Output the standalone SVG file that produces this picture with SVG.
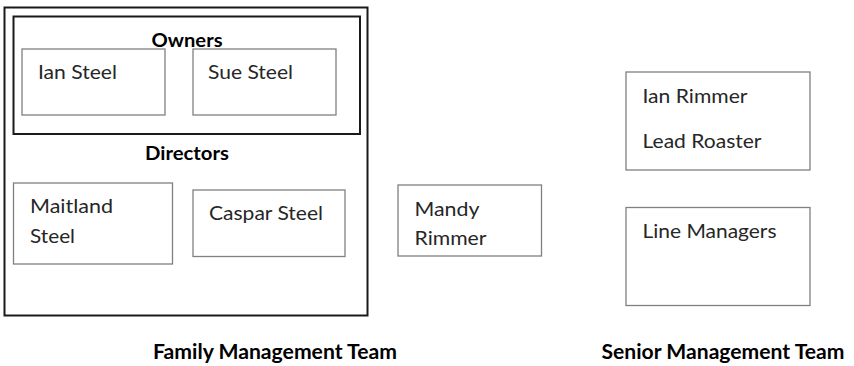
<svg xmlns="http://www.w3.org/2000/svg" width="854" height="366" viewBox="0 0 854 366">
<style>
.frame{fill:none;stroke:#1a1a1a;stroke-width:2}
.box{fill:#fff;stroke:#808080;stroke-width:1.3}
.t{font-family:Lato,"Open Sans","Liberation Sans",sans-serif;font-size:20px;fill:#262626}
.h{font-family:Lato,"Open Sans","Liberation Sans",sans-serif;font-weight:bold;fill:#000}
</style>
<rect width="854" height="366" fill="#fff"/>
<g id="family-frame">
<rect class="frame" x="4.5" y="7.5" width="363" height="308"/>
</g>
<g id="owners">
<rect class="frame" x="13.5" y="16.5" width="346.5" height="117.5"/>
<text class="h" x="187" y="47" font-size="18" text-anchor="middle" textLength="71" lengthAdjust="spacingAndGlyphs">Owners</text>
</g>
<g id="ian-steel">
<rect class="box" x="22" y="49" width="143" height="66"/>
<text class="t" x="38" y="79" textLength="79" lengthAdjust="spacingAndGlyphs">Ian Steel</text>
</g>
<g id="sue-steel">
<rect class="box" x="193" y="49" width="143" height="66"/>
<text class="t" x="208" y="79" textLength="85" lengthAdjust="spacingAndGlyphs">Sue Steel</text>
</g>
<g id="directors">
<text class="h" x="187" y="160" font-size="18" text-anchor="middle" textLength="84" lengthAdjust="spacingAndGlyphs">Directors</text>
</g>
<g id="maitland-steel">
<rect class="box" x="13.5" y="183" width="159" height="81"/>
<text class="t" x="30" y="213" textLength="83" lengthAdjust="spacingAndGlyphs">Maitland</text>
<text class="t" x="30" y="243" textLength="45" lengthAdjust="spacingAndGlyphs">Steel</text>
</g>
<g id="caspar-steel">
<rect class="box" x="193" y="190" width="152" height="66.5"/>
<text class="t" x="209" y="220" textLength="114" lengthAdjust="spacingAndGlyphs">Caspar Steel</text>
</g>
<g id="mandy-rimmer">
<rect class="box" x="398" y="185" width="143.5" height="71"/>
<text class="t" x="414.5" y="216" textLength="65" lengthAdjust="spacingAndGlyphs">Mandy</text>
<text class="t" x="414.5" y="245" textLength="72" lengthAdjust="spacingAndGlyphs">Rimmer</text>
</g>
<g id="ian-rimmer">
<rect class="box" x="626" y="72" width="184" height="98"/>
<text class="t" x="642.5" y="102.5" textLength="105" lengthAdjust="spacingAndGlyphs">Ian Rimmer</text>
<text class="t" x="642.5" y="148" textLength="119" lengthAdjust="spacingAndGlyphs">Lead Roaster</text>
</g>
<g id="line-managers">
<rect class="box" x="626" y="207.5" width="184" height="98"/>
<text class="t" x="642.5" y="238" textLength="134" lengthAdjust="spacingAndGlyphs">Line Managers</text>
</g>
<g id="family-label">
<text class="h" x="275" y="359" font-size="20" text-anchor="middle" textLength="244" lengthAdjust="spacingAndGlyphs">Family Management Team</text>
</g>
<g id="senior-label">
<text class="h" x="723" y="359" font-size="20" text-anchor="middle" textLength="243" lengthAdjust="spacingAndGlyphs">Senior Management Team</text>
</g>
<g id="connectors"></g>
</svg>
